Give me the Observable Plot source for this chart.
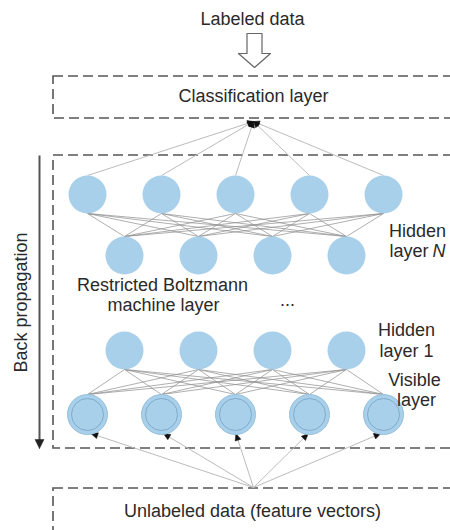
<!DOCTYPE html>
<html><head><meta charset="utf-8">
<script src="https://cdn.jsdelivr.net/npm/d3@7"></script>
<script src="https://cdn.jsdelivr.net/npm/@observablehq/plot@0.6"></script>
<style>body{margin:0;background:#fff} #chart svg{display:block}</style>
</head><body><div id="chart"></div>
<script>
// ---------------- data ----------------
const rowNames = ["Hidden layer N (upper)", "Hidden layer N", "Hidden layer 1", "Visible layer"];
const unitCounts = [5, 4, 4, 5];
const headerText = "Labeled data";
const classText = "Classification layer";
const inputText = "Unlabeled data (feature vectors)";
const sideText = "Back propagation";
const rbmLines = ["Restricted Boltzmann", "machine layer"];
const gapText = "...";
const hiddenNLines = ["Hidden", "layer", "N"];
const hidden1Lines = ["Hidden", "layer 1"];
const visibleLines = ["Visible", "layer"];

// ---------------- layout ----------------
const L = {
  firstX: 87, gap: 74, cx: 253,
  rowY: [194, 255, 350, 414], r: 19, rVis: 20, rInner: 16,
  boxX: [53, 480], classBox: [76, 118], mainBox: [155, 448], inputBox: [488, 580],
  topJoinY: 121, bottomJoinY: 487,
  sideX: 39,
  font: 18
};
const maxCount = d3.max(unitCounts);
const units = [];
unitCounts.forEach((n, i) => {
  for (let j = 0; j < n; j++) units.push({row: i, name: rowNames[i], x: L.firstX + L.gap * (j + (maxCount - n) / 2), y: L.rowY[i]});
});
const rowUnits = i => units.filter(u => u.row === i);
const rad = i => (i === 3 ? L.rVis : L.r);

const edges = [];
[[0, 1], [2, 3]].forEach(([a, b]) => {
  for (const u of rowUnits(a)) for (const v of rowUnits(b))
    edges.push({x1: u.x, y1: u.y + rad(a), x2: v.x, y2: v.y - rad(b)});
});
const arrows = [];
for (const u of rowUnits(0)) arrows.push({x1: u.x, y1: u.y - L.r, x2: L.cx, y2: L.topJoinY, h: 6, w: 3});
for (const u of rowUnits(3)) arrows.push({x1: L.cx, y1: L.bottomJoinY, x2: u.x + (L.cx - u.x) * 0.02, y2: u.y + L.rVis - 1, h: 7, w: 3});

function head(a, id) {
  const dx = a.x2 - a.x1, dy = a.y2 - a.y1, len = Math.hypot(dx, dy);
  const ux = dx / len, uy = dy / len, nx = -uy, ny = ux;
  const bx = a.x2 - a.h * ux, by = a.y2 - a.h * uy;
  return [
    {id, x: a.x2, y: a.y2},
    {id, x: bx + a.w * nx, y: by + a.w * ny},
    {id, x: bx - a.w * nx, y: by - a.w * ny},
    {id, x: a.x2, y: a.y2}
  ];
}
const heads = arrows.flatMap((a, i) => head(a, i));
const sideArrow = {x1: L.sideX, y1: L.mainBox[0], x2: L.sideX, y2: L.mainBox[1], h: 9, w: 4.5};
const sideHead = head(sideArrow, "side");

// hollow arrow under "Labeled data"
const ha = {cx: 254, top: 33, neck: 53, tip: 67, shaft: 7.5, wing: 16};
const hollow = [
  [ha.cx - ha.shaft, ha.top], [ha.cx + ha.shaft, ha.top], [ha.cx + ha.shaft, ha.neck],
  [ha.cx + ha.wing, ha.neck], [ha.cx, ha.tip], [ha.cx - ha.wing, ha.neck],
  [ha.cx - ha.shaft, ha.neck], [ha.cx - ha.shaft, ha.top]
].map(([x, y]) => ({x, y}));

const boxes = [L.classBox, L.mainBox, L.inputBox].map(([y1, y2]) => ({x1: L.boxX[0], x2: L.boxX[1], y1, y2}));

const centerTexts = [
  {t: headerText, x: 252, y: 19},
  {t: classText, x: 253, y: 96},
  {t: inputText, x: 252, y: 511},
  {t: rbmLines[0], x: 162, y: 284.5},
  {t: rbmLines[1], x: 163, y: 305},
  {t: gapText, x: 287, y: 300},
  {t: hiddenNLines[0], x: 417, y: 230.5},
  {t: hidden1Lines[0], x: 406, y: 330},
  {t: hidden1Lines[1], x: 406, y: 350.5},
  {t: visibleLines[0], x: 414, y: 379.5},
  {t: visibleLines[1], x: 416, y: 400}
];
const endTexts = [{t: hiddenNLines[1], x: 428, y: 251}];
const italicTexts = [{t: hiddenNLines[2], x: 432, y: 251}];
const txtColor = "#2a2a2a";

const chart = Plot.plot({
  width: 450, height: 530, margin: 0,
  x: {domain: [0, 450], range: [0, 450], axis: null},
  y: {domain: [0, 530], range: [0, 530], axis: null},
  style: {fontFamily: "'Liberation Sans', Arial, sans-serif", background: "#fff"},
  marks: [
    Plot.rect(boxes, {x1: "x1", x2: "x2", y1: "y1", y2: "y2", fill: "none", stroke: "#555", strokeWidth: 1.6, strokeDasharray: "10,5"}),
    Plot.link(edges, {x1: "x1", y1: "y1", x2: "x2", y2: "y2", stroke: "#8c8c8c", strokeWidth: 0.7}),
    Plot.link(arrows, {x1: "x1", y1: "y1", x2: "x2", y2: "y2", stroke: "#bcbcbc", strokeWidth: 1}),
    Plot.line(heads, {x: "x", y: "y", z: "id", fill: "#111", stroke: "#111", strokeWidth: 0.5}),
    Plot.dot(units, {x: "x", y: "y", r: L.r, fill: "#a9d0ea", filter: u => u.row !== 3}),
    Plot.dot(units, {x: "x", y: "y", r: L.rVis, fill: "#a9d0ea", stroke: "#95c0dd", strokeWidth: 1, filter: u => u.row === 3}),
    Plot.dot(units, {x: "x", y: "y", r: L.rInner, fill: "none", stroke: "#7eabcc", strokeWidth: 1, filter: u => u.row === 3}),
    Plot.link([sideArrow], {x1: "x1", y1: "y1", x2: "x2", y2: d => d.y2 - 6, stroke: "#555", strokeWidth: 2}),
    Plot.line(sideHead, {x: "x", y: "y", z: "id", fill: "#222", stroke: "#222", strokeWidth: 0.5}),
    Plot.line(hollow, {x: "x", y: "y", fill: "#fff", stroke: "#666", strokeWidth: 1.2}),
    Plot.text(centerTexts, {x: "x", y: "y", text: "t", textAnchor: "middle", fontSize: L.font, fill: txtColor}),
    Plot.text(endTexts, {x: "x", y: "y", text: "t", textAnchor: "end", fontSize: L.font, fill: txtColor}),
    Plot.text(italicTexts, {x: "x", y: "y", text: "t", textAnchor: "start", fontSize: L.font, fontStyle: "italic", fill: txtColor}),
    Plot.text([sideText], {x: 21, y: 302, text: d => d, rotate: -90, fontSize: L.font, fill: txtColor})
  ]
});
document.getElementById("chart").append(chart);
</script>
</body></html>
